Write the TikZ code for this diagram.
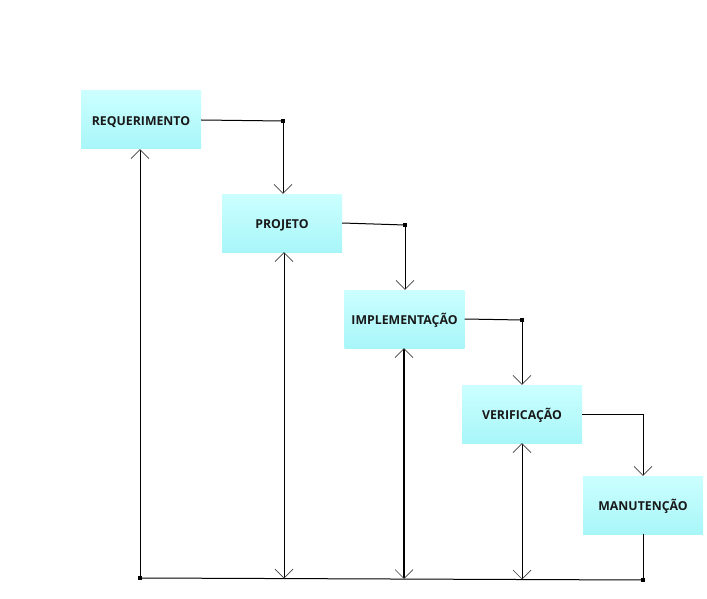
\documentclass[tikz,border=0pt]{standalone}
\usepackage{fontspec}
\setmainfont{Open Sans}
\usetikzlibrary{arrows.meta}
\definecolor{boxtop}{HTML}{CCFFFF}
\definecolor{boxbot}{HTML}{A8F6F8}
\tikzset{
  phase/.style={minimum width=120pt, minimum height=58pt, inner sep=0pt,
    top color=boxtop, bottom color=boxbot, draw=none,
    text height=11.8pt, text depth=0pt,
    font=\fontsize{12.3}{14}\selectfont\bfseries, text=black!90},
  link/.style={line width=1pt, black},
  vtip/.style={-{Straight Barb[length=9pt,width=18pt,line width=0.7pt,color=black!75]}},
  twotip/.style={{Straight Barb[length=9pt,width=18pt,line width=0.7pt,color=black!75]}-{Straight Barb[length=9pt,width=18pt,line width=0.7pt,color=black!75]}},
  joint/.style={fill=black, draw=none}
}
\begin{document}
\begin{tikzpicture}[x=1pt,y=-1pt]
\useasboundingbox (0,0) rectangle (707,599);

% phases of the cascade
\node[phase] (req)  at (141,120)   {REQUERIMENTO};
\node[phase] (proj) at (282,223)   {PROJETO};
\node[phase] (impl) at (404.5,319) {IMPLEMENTAÇÃO};
\node[phase] (ver)  at (522,414)   {VERIFICAÇÃO};
\node[phase] (man)  at (643,505)   {MANUTENÇÃO};

% bend points
\coordinate (c1) at (283,121);
\coordinate (c2) at (405,225);
\coordinate (c3) at (522,320);
\coordinate (c4) at (643,414);
\coordinate (b0) at (140,578);
\coordinate (b1) at (284,578.5);
\coordinate (b2) at (404,579);
\coordinate (b3) at (522,579.5);
\coordinate (b4) at (643,580);

% downward flow
\draw[link] (req.east)  -- (c1);
\draw[link,vtip] (c1) -- (c1 |- proj.north);
\draw[link] (proj.east) -- (c2);
\draw[link,vtip] (c2) -- (c2 |- impl.north);
\draw[link] (impl.east) -- (c3);
\draw[link,vtip] (c3) -- (c3 |- ver.north);
\draw[link] (ver.east)  -- (c4);
\draw[link,vtip] (c4) -- (c4 |- man.north);

% feedback along the bottom
\draw[link] (man.south) -- (b4);
\draw[link] (b4) -- (b0);
\draw[link,vtip] (b0) -- (b0 |- req.south);
\draw[link,twotip] (b1) -- (b1 |- proj.south);
\draw[link,twotip,line width=2pt] (b2) -- (b2 |- impl.south);
\draw[link,twotip] (b3) -- (b3 |- ver.south);

% joints
\foreach \p in {c1,c2,c3,b0,b4}
  \fill[joint] (\p) ++(-1.6,-1.6) rectangle ++(3.2,3.2);
\end{tikzpicture}
\end{document}
